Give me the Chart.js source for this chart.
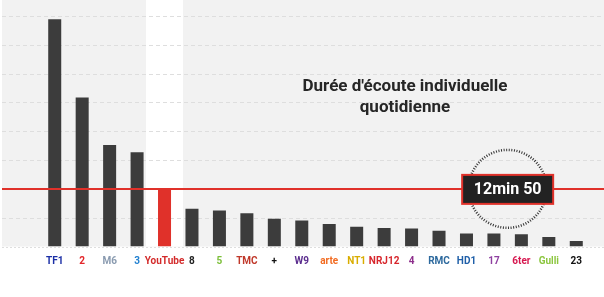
<!DOCTYPE html>
<html>
<head>
<meta charset="utf-8">
<script src="https://cdn.jsdelivr.net/npm/chart.js@4"></script>
<style>
  html, body { margin: 0; padding: 0; background: #fff; }
  #wrap { width: 604px; height: 297px; position: relative; }
</style>
</head>
<body>
<div id="wrap"><canvas id="chart"></canvas></div>
<script>
// daily individual viewing time per channel, in minutes
const channels = ["TF1", "2", "M6", "3", "YouTube", "8", "5", "TMC", "+", "W9",
  "arte", "NT1", "NRJ12", "4", "RMC", "HD1", "17", "6ter", "Gulli", "23"];
const minutes = [50.6, 33.2, 22.6, 21.0, 12.83, 8.4, 8.0, 7.4, 6.2, 5.8,
  5.0, 4.4, 4.1, 4.0, 3.5, 2.9, 2.9, 2.7, 2.1, 1.2];
const logoColors = ["#1b2fa6", "#e3262a", "#8a9bb0", "#1f7fd0", "#d32a2a", "#222222", "#7cbf3a", "#c0392b", "#111111", "#5b2d8e",
  "#f26b21", "#d9ad00", "#d7262c", "#8e2f8c", "#2e6a9e", "#1f5fa8", "#8e3fa0", "#d6174f", "#8cc63f", "#111111"];
const highlight = 4; // YouTube
const refMinutes = 12.83;
const refLabel = "12min 50";
const titleLines = ["Durée d'écoute individuelle", "quotidienne"];
const gridStep = refMinutes / 2;
const gridCount = 8;

const decor = {
  id: "decor",
  beforeDraw(chart) {
    const { ctx, chartArea, scales } = chart;
    const x = scales.x, y = scales.y;
    const bottom = chartArea.bottom;
    ctx.save();
    ctx.fillStyle = "#f2f2f2";
    ctx.fillRect(2, 0, chart.width - 2, bottom);
    // white column behind the highlighted bar
    const cx = x.getPixelForValue(highlight);
    ctx.fillStyle = "#ffffff";
    ctx.fillRect(cx - 18.5, 0, 37, bottom);
    // dashed grid lines
    ctx.strokeStyle = "#dedede";
    ctx.lineWidth = 1;
    for (let i = 0; i <= gridCount; i++) {
      const py = Math.round(y.getPixelForValue(i * gridStep)) + 0.5;
      ctx.setLineDash(i === 0 ? [2, 2] : [4, 3]);
      ctx.beginPath();
      ctx.moveTo(2, py);
      ctx.lineTo(chart.width, py);
      ctx.stroke();
    }
    ctx.restore();
  },
  afterDatasetsDraw(chart) {
    const { ctx, chartArea, scales } = chart;
    const x = scales.x, y = scales.y;
    ctx.save();
    // reference line
    const ry = y.getPixelForValue(refMinutes);
    ctx.strokeStyle = "#e0312a";
    ctx.lineWidth = 2;
    ctx.beginPath();
    ctx.moveTo(2, ry);
    ctx.lineTo(chart.width, ry);
    ctx.stroke();
    // dotted circle + label box
    const bx = x.getPixelForValue(16.5);
    ctx.strokeStyle = "#333";
    ctx.lineWidth = 2.5;
    ctx.setLineDash([1, 1.6]);
    ctx.beginPath();
    ctx.arc(bx, ry, 39, 0, Math.PI * 2);
    ctx.stroke();
    ctx.setLineDash([]);
    ctx.fillStyle = "#222222";
    ctx.fillRect(bx - 45.5, ry - 14, 91, 29);
    ctx.strokeStyle = "#e0312a";
    ctx.lineWidth = 2;
    ctx.strokeRect(bx - 45.5, ry - 14, 91, 29);
    ctx.fillStyle = "#ffffff";
    ctx.font = "bold 16px Roboto";
    ctx.textAlign = "center";
    ctx.textBaseline = "middle";
    ctx.fillText(refLabel, bx, ry + 1);
    // title
    ctx.fillStyle = "#262626";
    ctx.font = "bold 17px Roboto";
    ctx.fillText(titleLines[0], 405, 87);
    ctx.fillText(titleLines[1], 405, 108);
    ctx.restore();
  }
};

new Chart(document.getElementById("chart"), {
  type: "bar",
  data: {
    labels: channels,
    datasets: [{
      data: minutes,
      backgroundColor: minutes.map((v, i) => i === highlight ? "#e0312a" : "#3c3c3c"),
      borderWidth: 0,
      barPercentage: 0.474,
      categoryPercentage: 1
    }]
  },
  options: {
    responsive: true,
    maintainAspectRatio: false,
    animation: false,
    layout: { padding: { left: 41, right: 14, top: 16, bottom: 28.5 } },
    plugins: { legend: { display: false }, tooltip: { enabled: false } },
    scales: {
      x: {
        grid: { display: false },
        border: { display: false },
        ticks: {
          autoSkip: false,
          maxRotation: 0,
          padding: 1,
          color: logoColors,
          font: { family: "Roboto", size: 10, weight: "bold" }
        }
      },
      y: {
        display: false,
        min: 0,
        max: gridStep * gridCount
      }
    }
  },
  plugins: [decor]
});
</script>
</body>
</html>
